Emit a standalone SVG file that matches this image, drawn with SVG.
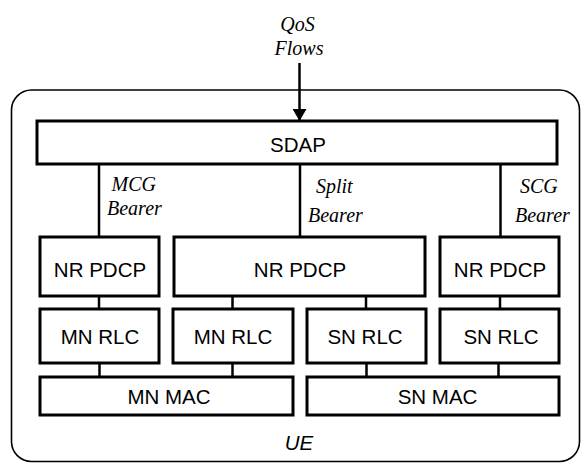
<svg xmlns="http://www.w3.org/2000/svg" width="581" height="463" viewBox="0 0 581 463">
<defs>
<style>
.box{fill:#fff;stroke:#000;stroke-width:3}
.lbl{font-family:"Liberation Sans",Arial,sans-serif;font-size:20.5px;fill:#000;text-anchor:middle}
.it{font-family:"Liberation Serif","Times New Roman",serif;font-size:20px;font-style:italic;fill:#000}
.ln{stroke:#000;stroke-width:2.5;fill:none}
</style>
<marker id="ah" viewBox="0 0 12 14" refX="12" refY="7" markerWidth="12" markerHeight="14" markerUnits="userSpaceOnUse" orient="auto">
<path d="M0,0 L12,7 L0,14 Z" fill="#000"/>
</marker>
</defs>
<rect id="ue" x="11.5" y="90" width="568" height="371.5" rx="20" ry="20" fill="none" stroke="#000" stroke-width="1.6"/>
<text class="lbl" x="299" y="450" font-style="italic">UE</text>
<text class="it" x="297.5" y="30.5" text-anchor="middle">QoS</text>
<text class="it" x="299" y="55" text-anchor="middle">Flows</text>
<g id="connectors">
<line class="ln" x1="299.5" y1="63" x2="299.5" y2="121" marker-end="url(#ah)"/>
<line class="ln" x1="99" y1="164" x2="99" y2="237"/>
<line class="ln" x1="300" y1="164" x2="300" y2="237"/>
<line class="ln" x1="500.5" y1="164" x2="500.5" y2="237"/>
<line class="ln" x1="99" y1="296" x2="99" y2="309"/>
<line class="ln" x1="232.5" y1="296" x2="232.5" y2="309"/>
<line class="ln" x1="366" y1="296" x2="366" y2="309"/>
<line class="ln" x1="500" y1="296" x2="500" y2="309"/>
<line class="ln" x1="99.5" y1="363" x2="99.5" y2="377"/>
<line class="ln" x1="232.5" y1="363" x2="232.5" y2="377"/>
<line class="ln" x1="366.5" y1="363" x2="366.5" y2="377"/>
<line class="ln" x1="498.5" y1="363" x2="498.5" y2="377"/>
<text class="it" x="111.5" y="191">MCG</text>
<text class="it" x="107" y="215">Bearer</text>
<text class="it" x="316" y="193">Split</text>
<text class="it" x="308" y="222">Bearer</text>
<text class="it" x="520" y="193">SCG</text>
<text class="it" x="515" y="221.5">Bearer</text>
</g>
<g id="sdap"><rect class="box" x="37" y="121" width="520" height="43"/><text class="lbl" x="298" y="152">SDAP</text></g>
<g id="pdcp-mcg"><rect class="box" x="40" y="237" width="119" height="59"/><text class="lbl" x="100" y="277">NR PDCP</text></g>
<g id="pdcp-split"><rect class="box" x="174" y="237" width="251" height="59"/><text class="lbl" x="300" y="277">NR PDCP</text></g>
<g id="pdcp-scg"><rect class="box" x="440" y="237" width="119" height="59"/><text class="lbl" x="500" y="277">NR PDCP</text></g>
<g id="rlc-mn1"><rect class="box" x="40" y="309" width="119" height="54"/><text class="lbl" x="100" y="344">MN RLC</text></g>
<g id="rlc-mn2"><rect class="box" x="173" y="309" width="120" height="54"/><text class="lbl" x="233" y="344">MN RLC</text></g>
<g id="rlc-sn1"><rect class="box" x="307" y="309" width="119" height="54"/><text class="lbl" x="365" y="344">SN RLC</text></g>
<g id="rlc-sn2"><rect class="box" x="440" y="309" width="119" height="54"/><text class="lbl" x="501" y="344">SN RLC</text></g>
<g id="mac-mn"><rect class="box" x="40" y="377" width="253" height="38"/><text class="lbl" x="169" y="404">MN MAC</text></g>
<g id="mac-sn"><rect class="box" x="307" y="377" width="252" height="38"/><text class="lbl" x="437.5" y="404">SN MAC</text></g>
</svg>
